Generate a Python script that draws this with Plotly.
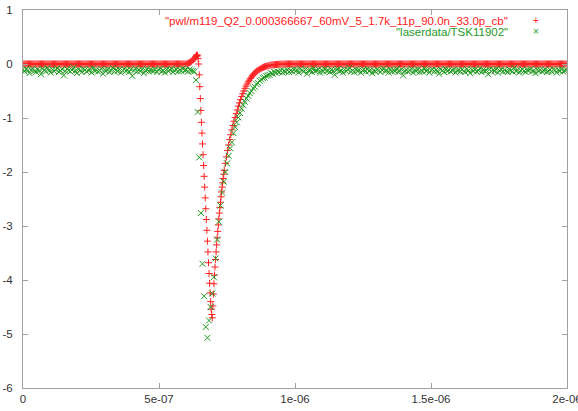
import plotly.graph_objects as go

# ---------------- data (time in ns, signal in arbitrary units) ----------------
# Simulated trace (red "+"): flat at 0 outside the pulse window
red_flat_level = 0.0
red_flat_step_ns = 4
red_pre_end_ns = 600
red_post_start_ns = 972
red_end_ns = 2000

red_trans_t = [600, 604, 608, 612, 616, 620, 624, 628, 632, 634, 636, 638, 640, 642, 644,
               646, 648, 650, 652, 654, 656, 658, 660, 662, 664, 666, 668, 670, 672, 674,
               676, 678, 680, 682, 684, 686, 688, 690, 692, 694, 696,
               698, 700, 702, 704, 706, 708, 710, 712, 714, 716, 718, 720, 722, 724, 726,
               728, 730, 732, 734, 736, 738, 740, 744, 748, 752, 756, 760, 764, 768, 772,
               776, 780, 784, 788, 792, 796, 800, 804, 808, 812, 816, 820, 824, 828, 832,
               836, 840, 844, 848, 852, 856, 860, 864, 868, 872, 876, 880, 884, 888, 892,
               896, 900, 904, 908, 912, 916, 920, 924, 928, 932, 936, 940, 944, 948, 952,
               956, 960, 964, 968]
red_trans_y = [0.0, 0.005, 0.015, 0.025, 0.035, 0.05, 0.07, 0.09, 0.11, 0.125, 0.14, 0.16, 0.17, 0.15, 0.10,
               0.0, -0.2, -0.42, -0.64, -0.86, -1.08, -1.28, -1.48, -1.68, -1.88, -2.08, -2.28, -2.48, -2.68, -2.88,
               -3.08, -3.28, -3.48, -3.68, -3.88, -4.06, -4.24, -4.40, -4.54, -4.64, -4.70,
               -4.48, -4.26, -4.07, -3.91, -3.76, -3.62, -3.48, -3.35, -3.22, -3.10, -2.98, -2.87, -2.76, -2.66, -2.56,
               -2.46, -2.37, -2.28, -2.20, -2.12, -2.04, -1.97, -1.84, -1.72, -1.60, -1.50, -1.40, -1.31, -1.22, -1.14,
               -1.06, -0.99, -0.92, -0.85, -0.78, -0.72, -0.66, -0.60, -0.55, -0.50, -0.45, -0.41, -0.37, -0.33, -0.30,
               -0.27, -0.24, -0.21, -0.19, -0.17, -0.15, -0.13, -0.115, -0.10, -0.09, -0.08, -0.07, -0.06, -0.052, -0.045,
               -0.039, -0.034, -0.029, -0.025, -0.021, -0.018, -0.015, -0.013, -0.011, -0.009, -0.007, -0.006, -0.005, -0.004, -0.003,
               -0.002, -0.001, -0.001, 0.0]

# Measured trace (green "x"): uniformly sampled oscilloscope record
green_dt_ns = 6
green_y = [
    # 0 .. 624 ns (baseline)
    -0.10, -0.14, -0.09, -0.12, -0.17, -0.11, -0.08, -0.13, -0.15, -0.10, -0.12, -0.19, -0.09, -0.11, -0.14, -0.07, -0.12, -0.16, -0.10, -0.13,
    -0.11, -0.08, -0.15, -0.12, -0.10, -0.21, -0.13, -0.09, -0.12, -0.14, -0.11, -0.06, -0.13, -0.17, -0.10, -0.12, -0.15, -0.09, -0.11, -0.14,
    -0.12, -0.10, -0.16, -0.08, -0.13, -0.11, -0.14, -0.12, -0.09, -0.18, -0.11, -0.13, -0.10, -0.15, -0.12, -0.07, -0.14, -0.11, -0.13, -0.10,
    -0.16, -0.12, -0.09, -0.13, -0.11, -0.15, -0.10, -0.22, -0.12, -0.08, -0.14, -0.11, -0.13, -0.10, -0.17, -0.12, -0.09, -0.14, -0.11, -0.12,
    -0.13, -0.10, -0.15, -0.11, -0.08, -0.14, -0.12, -0.16, -0.10, -0.13, -0.11, -0.09, -0.15, -0.12, -0.10, -0.14, -0.11, -0.13, -0.08, -0.12,
    -0.11, -0.14, -0.10, -0.12, -0.13,
    # 630 .. 996 ns (pulse)
    -0.14, -0.30, -0.89, -1.73, -2.76, -3.70, -4.30, -4.87, -5.07, -4.75,
    -4.50, -4.25, -3.95, -3.60, -3.25, -2.92, -2.62, -2.38, -2.18, -2.00,
    -1.84, -1.70, -1.56, -1.45, -1.28, -1.17, -1.08, -0.99, -0.91, -0.83,
    -0.76, -0.70, -0.64, -0.59, -0.54, -0.50, -0.45, -0.42, -0.37, -0.35,
    -0.31, -0.29, -0.26, -0.25, -0.22, -0.21, -0.20, -0.17, -0.18, -0.15,
    -0.16, -0.14, -0.15, -0.12, -0.16, -0.13, -0.14, -0.11, -0.15, -0.12,
    -0.14, -0.10,
    # 1002 .. 1998 ns (baseline)
    -0.13, -0.11, -0.16, -0.09, -0.12, -0.14, -0.10, -0.18, -0.12, -0.11, -0.15, -0.08, -0.13, -0.12, -0.10, -0.16, -0.11, -0.14, -0.09, -0.13,
    -0.12, -0.15, -0.10, -0.13, -0.20, -0.11, -0.09, -0.14, -0.12, -0.16, -0.10, -0.13, -0.11, -0.07, -0.14, -0.12, -0.15, -0.10, -0.13, -0.11,
    -0.16, -0.12, -0.10, -0.14, -0.09, -0.13, -0.11, -0.17, -0.12, -0.14, -0.10, -0.12, -0.15, -0.11, -0.08, -0.13, -0.12, -0.16, -0.10, -0.14,
    -0.11, -0.13, -0.09, -0.15, -0.12, -0.10, -0.21, -0.13, -0.11, -0.14, -0.12, -0.09, -0.16, -0.11, -0.13, -0.10, -0.15, -0.12, -0.14, -0.08,
    -0.13, -0.11, -0.16, -0.12, -0.10, -0.14, -0.11, -0.13, -0.18, -0.10, -0.12, -0.15, -0.09, -0.13, -0.11, -0.14, -0.12, -0.10, -0.16, -0.12,
    -0.11, -0.14, -0.10, -0.13, -0.15, -0.09, -0.12, -0.17, -0.11, -0.13, -0.10, -0.14, -0.12, -0.08, -0.15, -0.11, -0.13, -0.12, -0.19, -0.10,
    -0.14, -0.11, -0.13, -0.09, -0.16, -0.12, -0.10, -0.14, -0.11, -0.13, -0.15, -0.10, -0.12, -0.14, -0.07, -0.13, -0.11, -0.16, -0.12, -0.10,
    -0.13, -0.15, -0.11, -0.12, -0.09, -0.14, -0.12, -0.17, -0.10, -0.13, -0.11, -0.14, -0.12, -0.10, -0.15, -0.13, -0.11, -0.14, -0.10, -0.12,
    -0.16, -0.11, -0.13, -0.09, -0.14, -0.12, -0.11,
]

x_tick_vals = [0, 5e-07, 1e-06, 1.5e-06, 2e-06]
x_tick_text = ["0", "5e-07", "1e-06", "1.5e-06", "2e-06"]
y_tick_vals = [1, 0, -1, -2, -3, -4, -5, -6]
y_tick_text = ["1", "0", "-1", "-2", "-3", "-4", "-5", "-6"]

red_label = '"pwl/m119_Q2_0.000366667_60mV_5_1.7k_11p_90.0n_33.0p_cb"'
green_label = '"laserdata/TSK11902"'

# ---------------- assemble series ----------------
ns = 1e-9
red_pre_t = list(range(0, red_pre_end_ns, red_flat_step_ns))
red_post_t = list(range(red_post_start_ns, red_end_ns + 1, red_flat_step_ns))
red_t = red_pre_t + red_trans_t + red_post_t
red_y = [red_flat_level] * len(red_pre_t) + red_trans_y + [red_flat_level] * len(red_post_t)
red_x = [t * ns for t in red_t]

green_x = [i * green_dt_ns * ns for i in range(len(green_y))]

RED = "#ff2020"
GREEN = "#1f9a1f"
FONT = "Liberation Sans"

fig = go.Figure()
fig.add_trace(go.Scatter(
    x=red_x, y=red_y, mode="markers", name=red_label, showlegend=False,
    marker=dict(symbol="cross-thin", size=5, line=dict(color=RED, width=1), color=RED),
))
fig.add_trace(go.Scatter(
    x=green_x, y=green_y, mode="markers", name=green_label, showlegend=False,
    marker=dict(symbol="x-thin", size=6, line=dict(color=GREEN, width=1), color=GREEN),
))

axis_common = dict(
    showline=True, linecolor="#a0a0a0", linewidth=1, mirror="ticks",
    ticks="inside", ticklen=5, tickcolor="#a0a0a0", tickwidth=1,
    showgrid=False, zeroline=False, automargin=False,
    ticklabeloverflow="allow",
    tickfont=dict(family=FONT, size=11.5, color="#333333"),
)
fig.update_xaxes(range=[0, 2e-06], tickmode="array", tickvals=x_tick_vals,
                 ticktext=x_tick_text, **axis_common)
fig.update_yaxes(range=[-6, 1], tickmode="array", tickvals=y_tick_vals,
                 ticktext=y_tick_text, ticklabelstandoff=7, **axis_common)

# gnuplot-style key: text right-aligned, sample symbol to its right
key_text_x = 0.895
key_sym_x = 0.943
fig.add_annotation(xref="paper", yref="paper", x=key_text_x, y=0.971, text=red_label,
                   showarrow=False, xanchor="right", yanchor="middle",
                   font=dict(family=FONT, size=11.5, color=RED))
fig.add_annotation(xref="paper", yref="paper", x=key_text_x, y=0.942, text=green_label,
                   showarrow=False, xanchor="right", yanchor="middle",
                   font=dict(family=FONT, size=11.5, color=GREEN))
fig.add_annotation(xref="paper", yref="paper", x=key_sym_x, y=0.971, text="+",
                   showarrow=False, xanchor="center", yanchor="middle",
                   font=dict(family=FONT, size=10, color=RED))
fig.add_annotation(xref="paper", yref="paper", x=key_sym_x, y=0.942, text="×",
                   showarrow=False, xanchor="center", yanchor="middle",
                   font=dict(family=FONT, size=10, color=GREEN))

fig.update_layout(
    width=578, height=411,
    margin=dict(l=23, r=11, t=10, b=23, pad=0),
    paper_bgcolor="white", plot_bgcolor="white",
    showlegend=False,
)

fig.write_html("out.html", config={"displayModeBar": False},
               post_script="document.body.style.margin='0';document.body.style.overflow='hidden';")
